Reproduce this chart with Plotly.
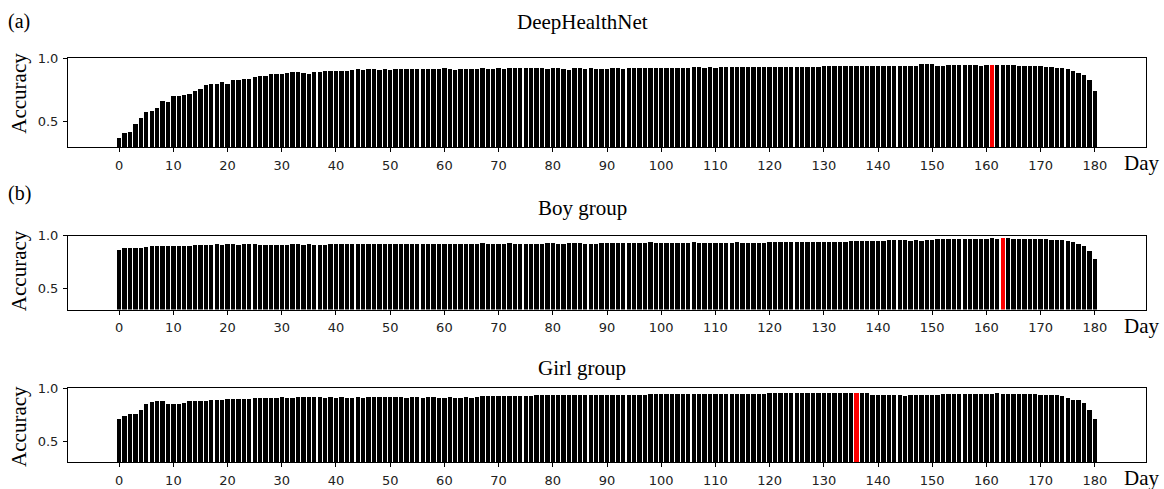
import plotly.graph_objects as go

# ---------------- data ----------------
days = list(range(181))

acc_deephealthnet = [
    0.372, 0.409, 0.417, 0.481, 0.523, 0.570, 0.580, 0.606, 0.663, 0.653,
    0.699, 0.699, 0.705, 0.718, 0.743, 0.754, 0.790, 0.798, 0.798, 0.808,
    0.798, 0.824, 0.824, 0.834, 0.834, 0.847, 0.860, 0.860, 0.870, 0.870,
    0.870, 0.881, 0.889, 0.889, 0.881, 0.870, 0.889, 0.889, 0.896, 0.896,
    0.896, 0.896, 0.896, 0.909, 0.917, 0.909, 0.917, 0.917, 0.909, 0.917,
    0.909, 0.917, 0.917, 0.913, 0.917, 0.917, 0.917, 0.917, 0.917, 0.913,
    0.925, 0.917, 0.909, 0.917, 0.917, 0.913, 0.917, 0.925, 0.917, 0.917,
    0.925, 0.917, 0.925, 0.925, 0.925, 0.925, 0.925, 0.925, 0.925, 0.917,
    0.925, 0.925, 0.917, 0.909, 0.925, 0.925, 0.913, 0.925, 0.913, 0.913,
    0.917, 0.925, 0.925, 0.913, 0.925, 0.925, 0.925, 0.925, 0.925, 0.925,
    0.925, 0.925, 0.925, 0.925, 0.925, 0.925, 0.932, 0.932, 0.925, 0.932,
    0.925, 0.932, 0.932, 0.932, 0.932, 0.932, 0.932, 0.932, 0.932, 0.932,
    0.932, 0.932, 0.932, 0.932, 0.932, 0.932, 0.932, 0.932, 0.932, 0.932,
    0.940, 0.940, 0.940, 0.940, 0.940, 0.940, 0.940, 0.940, 0.940, 0.940,
    0.940, 0.940, 0.940, 0.940, 0.940, 0.940, 0.940, 0.940, 0.953, 0.953,
    0.953, 0.940, 0.940, 0.948, 0.948, 0.948, 0.948, 0.948, 0.948, 0.940,
    0.948, 0.948, 0.948, 0.948, 0.948, 0.948, 0.940, 0.935, 0.940, 0.940,
    0.940, 0.930, 0.930, 0.922, 0.922, 0.914, 0.897, 0.883, 0.863, 0.826,
    0.741,
]

acc_boy = [
    0.866, 0.882, 0.882, 0.891, 0.885, 0.894, 0.904, 0.904, 0.910, 0.910,
    0.910, 0.910, 0.910, 0.910, 0.913, 0.913, 0.913, 0.913, 0.922, 0.916,
    0.922, 0.922, 0.916, 0.922, 0.922, 0.922, 0.916, 0.916, 0.916, 0.916,
    0.916, 0.916, 0.922, 0.922, 0.916, 0.922, 0.916, 0.916, 0.916, 0.922,
    0.922, 0.922, 0.929, 0.922, 0.922, 0.922, 0.929, 0.929, 0.929, 0.922,
    0.929, 0.922, 0.922, 0.929, 0.929, 0.929, 0.929, 0.922, 0.929, 0.929,
    0.929, 0.922, 0.929, 0.929, 0.929, 0.929, 0.929, 0.935, 0.929, 0.929,
    0.929, 0.929, 0.935, 0.929, 0.929, 0.929, 0.929, 0.929, 0.929, 0.935,
    0.935, 0.929, 0.929, 0.935, 0.935, 0.935, 0.929, 0.929, 0.929, 0.935,
    0.935, 0.935, 0.935, 0.935, 0.935, 0.935, 0.935, 0.935, 0.941, 0.935,
    0.935, 0.935, 0.935, 0.935, 0.935, 0.935, 0.941, 0.935, 0.935, 0.935,
    0.935, 0.935, 0.935, 0.935, 0.941, 0.935, 0.935, 0.935, 0.935, 0.935,
    0.941, 0.941, 0.941, 0.941, 0.941, 0.941, 0.941, 0.941, 0.941, 0.941,
    0.941, 0.941, 0.941, 0.941, 0.945, 0.950, 0.950, 0.950, 0.950, 0.950,
    0.950, 0.950, 0.959, 0.959, 0.959, 0.959, 0.950, 0.959, 0.950, 0.959,
    0.959, 0.969, 0.969, 0.969, 0.969, 0.969, 0.969, 0.969, 0.969, 0.969,
    0.969, 0.978, 0.969, 0.978, 0.978, 0.969, 0.969, 0.969, 0.969, 0.969,
    0.969, 0.969, 0.959, 0.959, 0.959, 0.950, 0.941, 0.928, 0.910, 0.857,
    0.779,
]

acc_girl = [
    0.705, 0.733, 0.752, 0.752, 0.789, 0.851, 0.863, 0.873, 0.879, 0.845,
    0.845, 0.851, 0.860, 0.873, 0.879, 0.879, 0.879, 0.888, 0.888, 0.888,
    0.898, 0.898, 0.898, 0.898, 0.898, 0.904, 0.904, 0.904, 0.904, 0.904,
    0.916, 0.904, 0.904, 0.916, 0.916, 0.916, 0.916, 0.916, 0.907, 0.916,
    0.907, 0.916, 0.907, 0.907, 0.916, 0.907, 0.916, 0.916, 0.916, 0.916,
    0.916, 0.913, 0.913, 0.907, 0.913, 0.913, 0.907, 0.913, 0.913, 0.910,
    0.910, 0.913, 0.907, 0.910, 0.913, 0.910, 0.913, 0.922, 0.925, 0.925,
    0.929, 0.925, 0.925, 0.929, 0.929, 0.925, 0.929, 0.935, 0.935, 0.935,
    0.935, 0.935, 0.932, 0.935, 0.935, 0.935, 0.935, 0.935, 0.935, 0.932,
    0.932, 0.935, 0.935, 0.935, 0.935, 0.932, 0.935, 0.935, 0.944, 0.944,
    0.944, 0.944, 0.944, 0.944, 0.944, 0.944, 0.944, 0.944, 0.944, 0.941,
    0.944, 0.941, 0.941, 0.944, 0.944, 0.941, 0.944, 0.944, 0.944, 0.944,
    0.953, 0.950, 0.953, 0.953, 0.953, 0.950, 0.953, 0.950, 0.953, 0.953,
    0.953, 0.950, 0.953, 0.950, 0.950, 0.950, 0.950, 0.950, 0.956, 0.932,
    0.932, 0.932, 0.932, 0.932, 0.932, 0.928, 0.932, 0.932, 0.932, 0.932,
    0.932, 0.932, 0.941, 0.941, 0.941, 0.941, 0.941, 0.941, 0.941, 0.941,
    0.941, 0.941, 0.950, 0.941, 0.941, 0.941, 0.941, 0.941, 0.941, 0.941,
    0.932, 0.932, 0.932, 0.932, 0.922, 0.907, 0.891, 0.882, 0.860, 0.795,
    0.705,
]

best_days = [161, 163, 136]
panel_titles = ["DeepHealthNet", "Boy group", "Girl group"]
panel_tags = ["(a)", "(b)", ""]
x_tick_vals = list(range(0, 181, 10))
y_tick_vals = [0.5, 1.0]
y_tick_text = ["0.5", "1.0"]

# ---------------- layout geometry (pixels) ----------------
W, H = 1164, 489
PLOT_L, PLOT_R = 68, 1146
panels_px = [(52, 142), (232, 307), (387, 462)]   # (top, bottom)
title_y = [15, 204, 366]
tag_y = [15, 189]
day_y = [158, 324, 478]
ylab_y = [88, 268, 426]


def px_x(x):
    return x / W


def px_y(y):
    return 1 - y / H


SERIF = "Liberation Serif, Times New Roman, serif"
SANS = "DejaVu Sans, sans-serif"

fig = go.Figure()
series = [acc_deephealthnet, acc_boy, acc_girl]
annotations = []
layout_axes = {}

for i, (vals, best) in enumerate(zip(series, best_days)):
    n = i + 1
    xa = "x" if n == 1 else f"x{n}"
    ya = "y" if n == 1 else f"y{n}"
    colors = ["#ff0000" if d == best else "#000000" for d in days]
    fig.add_trace(go.Bar(
        x=days, y=vals, width=0.8, xaxis=xa, yaxis=ya,
        marker=dict(color=colors, line=dict(width=0)),
        showlegend=False,
    ))
    top, bot = panels_px[i]
    xkey = "xaxis" if n == 1 else f"xaxis{n}"
    ykey = "yaxis" if n == 1 else f"yaxis{n}"
    layout_axes[xkey] = dict(
        domain=[px_x(PLOT_L), px_x(PLOT_R)],
        anchor=ya, range=[-9.44, 189.44],
        tickmode="array", tickvals=x_tick_vals,
        ticks="outside", ticklen=4, tickwidth=1, tickcolor="black",
        showline=True, linecolor="black", linewidth=1, mirror=True,
        showgrid=False, zeroline=False,
        tickfont=dict(family=SANS, size=13, color="#222"),
        ticklabelstandoff=2,
    )
    layout_axes[ykey] = dict(
        domain=[px_y(bot), px_y(top)],
        anchor=xa, range=[0.3, 1.0],
        tickmode="array", tickvals=y_tick_vals, ticktext=y_tick_text,
        ticks="outside", ticklen=4, tickwidth=1, tickcolor="black",
        showline=True, linecolor="black", linewidth=1, mirror=True,
        showgrid=False, zeroline=False,
        tickfont=dict(family=SANS, size=13, color="#222"),
        ticklabelstandoff=2,
    )
    annotations.append(dict(
        text=panel_titles[i], x=px_x(582), y=px_y(title_y[i]),
        xref="paper", yref="paper", showarrow=False,
        xanchor="center", yanchor="middle",
        font=dict(family=SERIF, size=21, color="black"),
    ))
    annotations.append(dict(
        text="Day", x=px_x(1141), y=px_y(day_y[i]),
        xref="paper", yref="paper", showarrow=False,
        xanchor="center", yanchor="middle",
        font=dict(family=SERIF, size=21, color="black"),
    ))
    annotations.append(dict(
        text="Accuracy", x=px_x(19), y=px_y(ylab_y[i]),
        xref="paper", yref="paper", showarrow=False, textangle=-90,
        xanchor="center", yanchor="middle",
        font=dict(family=SERIF, size=21, color="black"),
    ))
    if panel_tags[i]:
        annotations.append(dict(
            text=panel_tags[i], x=px_x(6), y=px_y(tag_y[i]),
            xref="paper", yref="paper", showarrow=False,
            xanchor="left", yanchor="middle",
            font=dict(family=SERIF, size=20, color="black"),
        ))

fig.update_layout(
    width=W, height=H, autosize=False,
    margin=dict(l=0, r=0, t=0, b=0),
    paper_bgcolor="white", plot_bgcolor="white",
    bargap=0, annotations=annotations,
    **layout_axes,
)

page_fix = (
    "var gd=document.getElementById('{plot_id}');"
    "gd.style.position='fixed';gd.style.top='0px';gd.style.left='0px';"
    "document.body.style.margin='0';document.body.style.overflow='hidden';"
    "document.documentElement.style.overflow='hidden';"
    "document.body.style.height='" + str(H) + "px';"
)

fig.write_html("out.html", config={"displayModeBar": False}, post_script=page_fix)
